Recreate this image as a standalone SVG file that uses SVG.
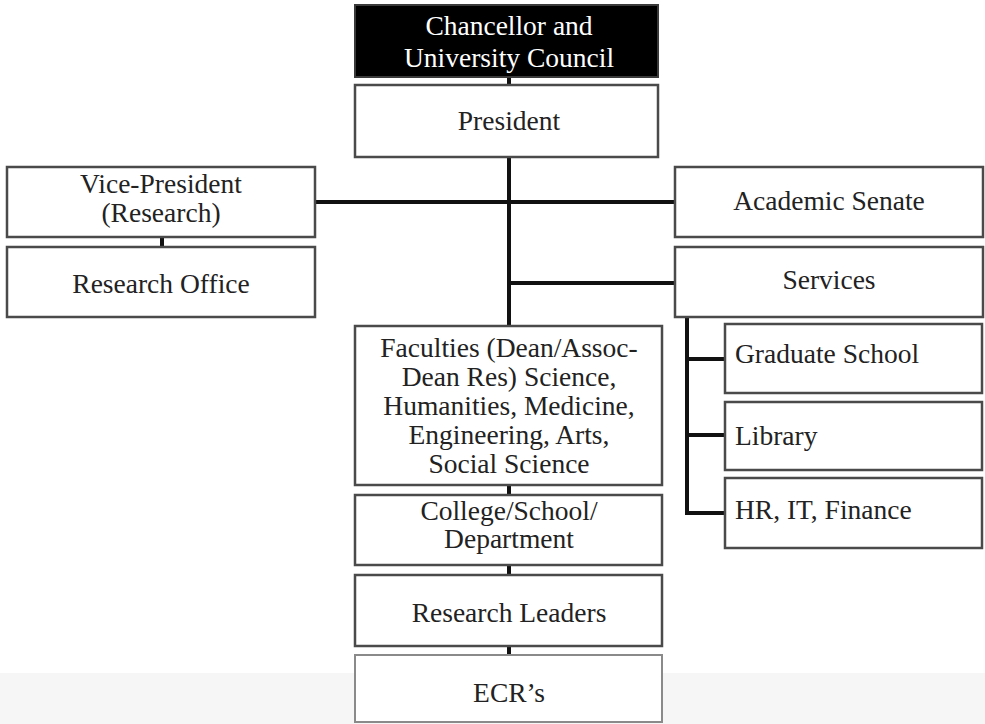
<svg xmlns="http://www.w3.org/2000/svg" width="985" height="724" viewBox="0 0 985 724">
<defs>
<style>
.box{fill:#ffffff;stroke:#4a4a4a;stroke-width:2.5}
.dark{fill:#000000;stroke:#3a3a3a;stroke-width:2}
.c{stroke:#111111;stroke-width:4;fill:none}
</style>
</defs>
<rect x="0" y="0" width="985" height="724" fill="#ffffff"/>
<rect x="0" y="673" width="985" height="51" fill="#f6f6f6"/>
<g id="connectors">
<line class="c" x1="509" y1="76" x2="509" y2="86"/>
<line class="c" x1="509" y1="156" x2="509" y2="327"/>
<line class="c" x1="314" y1="202" x2="676" y2="202"/>
<line class="c" x1="507" y1="283" x2="676" y2="283"/>
<line class="c" x1="162" y1="236" x2="162" y2="248"/>
<line class="c" x1="509" y1="484" x2="509" y2="496"/>
<line class="c" x1="509" y1="564" x2="509" y2="576"/>
<line class="c" x1="509" y1="645" x2="509" y2="656"/>
<polyline class="c" points="687,316 687,513 726,513"/>
<line class="c" x1="687" y1="359" x2="726" y2="359"/>
<line class="c" x1="687" y1="435" x2="726" y2="435"/>
</g>
<g id="chancellor">
<rect class="dark" x="355" y="5" width="303" height="72"/>
<text x="509" y="35" style="font-family:'Liberation Serif',serif;font-size:27.5px;fill:#ffffff;text-anchor:middle">Chancellor and</text>
<text x="509" y="67" style="font-family:'Liberation Serif',serif;font-size:27.5px;fill:#ffffff;text-anchor:middle">University Council</text>
</g>
<g id="president">
<rect class="box" x="355" y="85" width="303" height="72"/>
<text x="509" y="130" style="font-family:'Liberation Serif',serif;font-size:27.5px;fill:#222222;text-anchor:middle">President</text>
</g>
<g id="vice-president">
<rect class="box" x="7" y="167" width="308" height="70"/>
<text x="161" y="193" style="font-family:'Liberation Serif',serif;font-size:27.5px;fill:#222222;text-anchor:middle">Vice-President</text>
<text x="161" y="222" style="font-family:'Liberation Serif',serif;font-size:27.5px;fill:#222222;text-anchor:middle">(Research)</text>
</g>
<g id="research-office">
<rect class="box" x="7" y="247" width="308" height="70"/>
<text x="161" y="293" style="font-family:'Liberation Serif',serif;font-size:27.5px;fill:#222222;text-anchor:middle">Research Office</text>
</g>
<g id="academic-senate">
<rect class="box" x="675" y="167" width="308" height="70"/>
<text x="829" y="210" style="font-family:'Liberation Serif',serif;font-size:27.5px;fill:#222222;text-anchor:middle">Academic Senate</text>
</g>
<g id="services">
<rect class="box" x="675" y="247" width="308" height="70"/>
<text x="829" y="289" style="font-family:'Liberation Serif',serif;font-size:27.5px;fill:#222222;text-anchor:middle">Services</text>
</g>
<g id="faculties">
<rect class="box" x="355" y="326" width="307" height="159"/>
<text x="509" y="357" style="font-family:'Liberation Serif',serif;font-size:27.5px;fill:#222222;text-anchor:middle">Faculties (Dean/Assoc-</text>
<text x="509" y="386" style="font-family:'Liberation Serif',serif;font-size:27.5px;fill:#222222;text-anchor:middle">Dean Res) Science,</text>
<text x="509" y="415" style="font-family:'Liberation Serif',serif;font-size:27.5px;fill:#222222;text-anchor:middle">Humanities, Medicine,</text>
<text x="509" y="444" style="font-family:'Liberation Serif',serif;font-size:27.5px;fill:#222222;text-anchor:middle">Engineering, Arts,</text>
<text x="509" y="473" style="font-family:'Liberation Serif',serif;font-size:27.5px;fill:#222222;text-anchor:middle">Social Science</text>
</g>
<g id="college">
<rect class="box" x="355" y="495" width="307" height="70"/>
<text x="509" y="520" style="font-family:'Liberation Serif',serif;font-size:27.5px;fill:#222222;text-anchor:middle">College/School/</text>
<text x="509" y="548" style="font-family:'Liberation Serif',serif;font-size:27.5px;fill:#222222;text-anchor:middle">Department</text>
</g>
<g id="research-leaders">
<rect class="box" x="355" y="575" width="307" height="71"/>
<text x="509" y="622" style="font-family:'Liberation Serif',serif;font-size:27.5px;fill:#222222;text-anchor:middle">Research Leaders</text>
</g>
<g id="ecrs">
<rect class="box" x="355" y="655" width="307" height="67" style="stroke:#8a8a8a;stroke-width:2"/>
<text x="509" y="702" style="font-family:'Liberation Serif',serif;font-size:27.5px;fill:#222222;text-anchor:middle">ECR’s</text>
</g>
<g id="graduate-school">
<rect class="box" x="725" y="324" width="257" height="69"/>
<text x="735" y="363" style="font-family:'Liberation Serif',serif;font-size:27.5px;fill:#222222">Graduate School</text>
</g>
<g id="library">
<rect class="box" x="725" y="402" width="257" height="68"/>
<text x="735" y="445" style="font-family:'Liberation Serif',serif;font-size:27.5px;fill:#222222">Library</text>
</g>
<g id="hr-it-finance">
<rect class="box" x="725" y="478" width="257" height="70"/>
<text x="735" y="519" style="font-family:'Liberation Serif',serif;font-size:27.5px;fill:#222222">HR, IT, Finance</text>
</g>
</svg>
